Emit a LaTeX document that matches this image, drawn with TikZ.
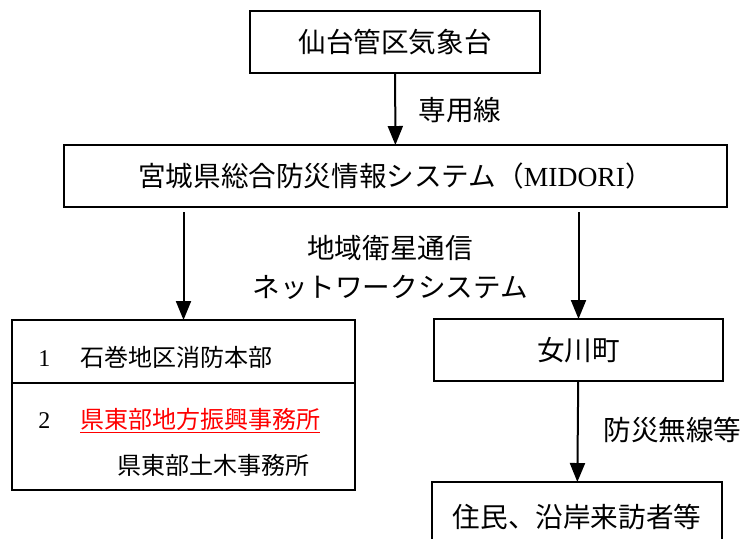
\documentclass[tikz,border=0pt]{standalone}
\usepackage{fontspec}
\setmainfont{Liberation Serif}
\newfontfamily\jp{Noto Sans CJK JP}
\usetikzlibrary{arrows.meta, positioning}
\tikzset{
  box/.style = {draw, line width=0.6pt, inner sep=0pt, outer sep=0pt,
    align=center, font=\jp\fontsize{13.8}{16}\selectfont},
  lbl/.style = {inner sep=0pt, align=center,
    font=\jp\fontsize{13.8}{19.5}\selectfont},
  item/.style = {inner sep=0pt, anchor=base west,
    font=\jp\fontsize{12}{14}\selectfont},
  arr/.style = {line width=1pt, -{Triangle[length=9.5pt, width=7.5pt]}}
}

\begin{document}
\begin{tikzpicture}[x=0.5pt, y=-0.5pt]
  \clip (0,0) rectangle (742,538);
  % boxes
  \node (jma) [box, minimum width=145pt, minimum height=31pt] at (395,42)
    {仙台管区気象台};
  \node (midori) [box, minimum width=331.5pt, minimum height=31pt]
    at (395.5,176) {宮城県総合防災情報システム（{\rmfamily MIDORI}）};
  \node (fire) [box, minimum width=171.5pt, minimum height=31.5pt]
    at (183.5,351.5) {};
  \node (pref) [box, minimum width=171.5pt, minimum height=53.5pt,
    below=0pt of fire] {};
  \node (onagawa) [box, minimum width=144.5pt, minimum height=31pt]
    at (578.5,350) {女川町};
  \node (resid) [box, minimum width=145pt, minimum height=35pt]
    at (577,517) {住民、沿岸来訪者等};
  % texts in the left box
  \node (n1) [item] at (38,366) {{\rmfamily 1}};
  \node (t1) [item] at (80,366) {石巻地区消防本部};
  \node (n2) [item] at (38,428) {{\rmfamily 2}};
  \node (t2) [item] at (80,428) {\textcolor{red}{\underline{県東部地方振興事務所}}};
  \node (t3) [item] at (117,474) {県東部土木事務所};
  % connectors
  \draw[arr] (jma) -- (midori);
  \draw[arr, shorten <=2.5pt] (fire.north |- midori.south) -- (fire);
  \draw[arr, shorten <=2.5pt] (onagawa.north |- midori.south) -- (onagawa);
  \draw[arr] (onagawa) -- (resid);
  % labels
  \node (l1) [lbl, anchor=west] at (418,110) {専用線};
  \node (l2) [lbl] at (390,267) {地域衛星通信\\ネットワークシステム};
  \node (l3) [lbl, anchor=west] at (603,430) {防災無線等};
\end{tikzpicture}
\end{document}
